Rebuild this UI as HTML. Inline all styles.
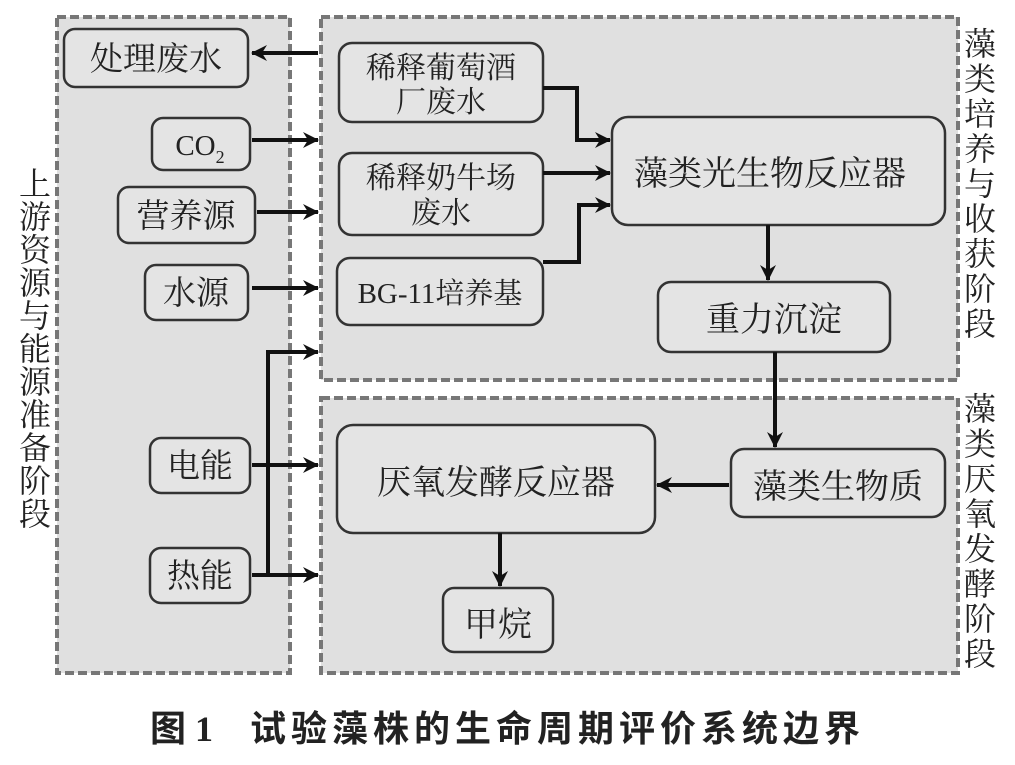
<!DOCTYPE html>
<html><head><meta charset="utf-8"><style>
body{margin:0;background:#fff;}
svg text{font-family:"Liberation Serif","Noto Serif CJK SC",serif;fill:#222;}
</style></head><body>
<svg width="1015" height="760" viewBox="0 0 1015 760" xmlns="http://www.w3.org/2000/svg">
<defs>
<marker id="a" markerWidth="18" markerHeight="18" refX="15" refY="9" orient="auto" markerUnits="userSpaceOnUse"><path d="M0,1 L16,9 L0,17 L5,9 Z" fill="#111"/></marker>
</defs>
<g fill="#e0e0e0" stroke="#777" stroke-width="4" stroke-dasharray="9,4">
<rect x="57" y="17" width="233" height="656"/>
<rect x="321" y="17" width="637" height="363"/>
<rect x="321" y="398" width="637" height="275"/>
</g>
<g fill="#e4e4e4" stroke="#333" stroke-width="2.5">
<rect x="64" y="29" width="184" height="58" rx="11"/>
<rect x="152" y="118" width="98" height="52" rx="11"/>
<rect x="118" y="187" width="137" height="56" rx="11"/>
<rect x="145" y="265" width="103" height="55" rx="11"/>
<rect x="150" y="438" width="100" height="55" rx="11"/>
<rect x="150" y="548" width="100" height="55" rx="11"/>
<rect x="339" y="43" width="204" height="79" rx="13"/>
<rect x="339" y="153" width="204" height="82" rx="13"/>
<rect x="337" y="258" width="206" height="67" rx="13"/>
<rect x="612" y="117" width="333" height="108" rx="16"/>
<rect x="658" y="282" width="232" height="70" rx="13"/>
<rect x="337" y="425" width="318" height="108" rx="16"/>
<rect x="731" y="449" width="214" height="68" rx="13"/>
<rect x="443" y="588" width="110" height="64" rx="11"/>
</g>
<g stroke="#111" stroke-width="4" fill="none" marker-end="url(#a)">
<path d="M318,53 H252"/>
<path d="M252,140 H318"/>
<path d="M257,212 H318"/>
<path d="M252,288 H318"/>
<path d="M268,575 V352 H318"/>
<path d="M252,465 H318"/>
<path d="M252,575 H318"/>
<path d="M543,88 H577 V140 H610"/>
<path d="M543,173 H610"/>
<path d="M543,262 H579 V205 H610"/>
<path d="M768,225 V280"/>
<path d="M775,352 V447"/>
<path d="M729,485 H657"/>
<path d="M500,533 V586"/>
</g>
<g font-size="33" text-anchor="middle">
<text x="156" y="70">处理废水</text>
<text x="200" y="155" font-size="29">CO<tspan font-size="18" dy="8">2</tspan></text>
<text x="186" y="227">营养源</text>
<text x="196" y="304">水源</text>
<text x="200" y="477">电能</text>
<text x="200" y="587">热能</text>
<text x="441" y="78" font-size="30">稀释葡萄酒</text>
<text x="441" y="112" font-size="30">厂废水</text>
<text x="441" y="188" font-size="30">稀释奶牛场</text>
<text x="441" y="223" font-size="30">废水</text>
<text x="440" y="303" font-size="29">BG-11培养基</text>
<text x="770" y="185" font-size="34">藻类光生物反应器</text>
<text x="774" y="331" font-size="34">重力沉淀</text>
<text x="496" y="494" font-size="34">厌氧发酵反应器</text>
<text x="838" y="498" font-size="34">藻类生物质</text>
<text x="498" y="636" font-size="34">甲烷</text>
</g>
<g font-size="32" text-anchor="middle">
<text x="35" y="195">上</text><text x="35" y="228">游</text><text x="35" y="261">资</text><text x="35" y="294">源</text><text x="35" y="327">与</text><text x="35" y="360">能</text><text x="35" y="393">源</text><text x="35" y="426">准</text><text x="35" y="459">备</text><text x="35" y="492">阶</text><text x="35" y="525">段</text>
<text x="980" y="55">藻</text><text x="980" y="90">类</text><text x="980" y="125">培</text><text x="980" y="160">养</text><text x="980" y="195">与</text><text x="980" y="230">收</text><text x="980" y="265">获</text><text x="980" y="300">阶</text><text x="980" y="335">段</text>
<text x="980" y="420">藻</text><text x="980" y="455">类</text><text x="980" y="490">厌</text><text x="980" y="525">氧</text><text x="980" y="560">发</text><text x="980" y="595">酵</text><text x="980" y="630">阶</text><text x="980" y="665">段</text>
</g>
<text x="150" y="741" font-size="36" font-weight="bold" style='font-family:"Liberation Serif","Noto Sans CJK SC",sans-serif'>图 1</text>
<text x="250" y="741" font-size="36" font-weight="bold" textLength="610" lengthAdjust="spacing" style='font-family:"Liberation Serif","Noto Sans CJK SC",sans-serif'>试验藻株的生命周期评价系统边界</text>
</svg>
</body></html>
